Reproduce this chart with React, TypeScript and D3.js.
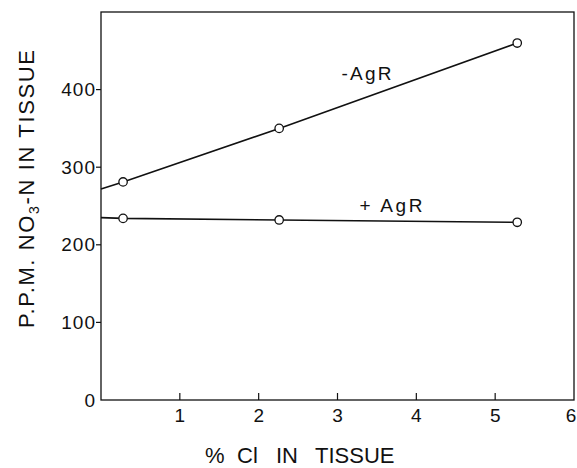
import React from 'react';
import * as d3 from 'd3';

// values
const clPercent = [0.28, 2.26, 5.28];
const minusAgR = [281, 350, 460];
const plusAgR = [234, 232, 229];
// where each drawn line meets the left axis
const minusAgRAtZero = 272;
const plusAgRAtZero = 235;

const xTicks = [1, 2, 3, 4, 5, 6];
const yTicks = [0, 100, 200, 300, 400];

const width = 577;
const height = 468;
const margin = { top: 12, right: 3, bottom: 68, left: 101 };

const font = '"Liberation Sans", Arial, sans-serif';

const App = () => {
  const x = d3.scaleLinear().domain([0, 6]).range([margin.left, width - margin.right]);
  const y = d3.scaleLinear().domain([0, 500]).range([height - margin.bottom, margin.top]);

  const line = d3
    .line<[number, number]>()
    .x((d) => x(d[0]))
    .y((d) => y(d[1]));

  const minusPts: [number, number][] = clPercent.map((c, i) => [c, minusAgR[i]]);
  const plusPts: [number, number][] = clPercent.map((c, i) => [c, plusAgR[i]]);

  const x0 = x(0);
  const y0 = y(0);

  return (
    <svg
      width={width}
      height={height}
      style={{ position: 'absolute', left: 0, top: 0, background: '#fff' }}
      fontFamily={font}
    >
      {/* frame */}
      <rect
        x={x0}
        y={y(500)}
        width={x(6) - x0}
        height={y0 - y(500)}
        fill="none"
        stroke="#111"
        strokeWidth={1.3}
      />

      {/* y axis ticks */}
      {yTicks.map((t) => (
        <g key={t}>
          {t > 0 && <line x1={x0 - 5} x2={x0} y1={y(t)} y2={y(t)} stroke="#111" strokeWidth={1.2} />}
          <text
            x={x0 - 5}
            y={y(t)}
            dy="0.35em"
            textAnchor="end"
            fontSize={19}
            letterSpacing={1}
            fill="#111"
          >
            {t}
          </text>
        </g>
      ))}

      {/* x axis ticks */}
      {xTicks.map((t) => (
        <g key={t}>
          {t < 6 && <line x1={x(t)} x2={x(t)} y1={y0} y2={y0 - 7} stroke="#111" strokeWidth={1.2} />}
          <text x={t === 6 ? x(t) - 3 : x(t)} y={y0 + 22} textAnchor="middle" fontSize={19} fill="#111">
            {t}
          </text>
        </g>
      ))}

      {/* lines */}
      <path
        d={line([[0, minusAgRAtZero], ...minusPts]) || ''}
        fill="none"
        stroke="#111"
        strokeWidth={1.6}
      />
      <path
        d={line([[0, plusAgRAtZero], ...plusPts]) || ''}
        fill="none"
        stroke="#111"
        strokeWidth={1.6}
      />

      {/* points */}
      {[...minusPts, ...plusPts].map((d, i) => (
        <circle key={i} cx={x(d[0])} cy={y(d[1])} r={4.2} fill="#fff" stroke="#111" strokeWidth={1.3} />
      ))}

      {/* series labels */}
      <text x={x(3.05)} y={y(413)} fontSize={19} fill="#111" textLength={50} lengthAdjust="spacing">
        -AgR
      </text>
      <text x={x(3.28)} y={y(242)} fontSize={19} fill="#111" textLength={63} lengthAdjust="spacing">
        + AgR
      </text>

      {/* axis titles */}
      <text x={205} y={463} fontSize={22} fill="#111">
        <tspan>%</tspan>
        <tspan x={237}>Cl</tspan>
        <tspan x={276}>IN</tspan>
        <tspan x={315}>TISSUE</tspan>
      </text>
      <text
        transform={`translate(34,${328}) rotate(-90)`}
        fontSize={22}
        fill="#111"
        textLength={278}
        lengthAdjust="spacing"
      >
        {'P.P.M. NO'}
        <tspan fontSize={14} dy={5}>
          3
        </tspan>
        <tspan dy={-5}>{'-N  IN  TISSUE'}</tspan>
      </text>
    </svg>
  );
};

export default App;
